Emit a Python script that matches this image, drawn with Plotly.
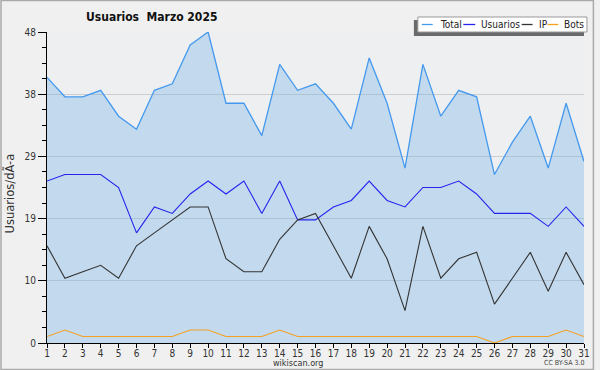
import plotly.graph_objects as go

days = list(range(1, 32))
total = [41, 38, 38, 39, 35, 33, 39, 40, 46, 48, 37, 37, 32, 43, 39, 40, 37, 33, 44, 37,
         27, 43, 35, 39, 38, 26, 31, 35, 27, 37, 28]
usuarios = [25, 26, 26, 26, 24, 17, 21, 20, 23, 25, 23, 25, 20, 25, 19, 19, 21, 22, 25, 22,
            21, 24, 24, 25, 23, 20, 20, 20, 18, 21, 18]
ip = [15, 10, 11, 12, 10, 15, 17, 19, 21, 21, 13, 11, 11, 16, 19, 20, 15, 10, 18, 13,
      5, 18, 10, 13, 14, 6, 10, 14, 8, 14, 9]
bots = [1, 2, 1, 1, 1, 1, 1, 1, 2, 2, 1, 1, 1, 2, 1, 1, 1, 1, 1, 1,
        1, 1, 1, 1, 1, 0, 1, 1, 1, 2, 1]
series_names = ["Total", "Usuarios", "IP", "Bots"]
series_colors = ["#4499ee", "#2424ee", "#333333", "#f5a020"]
ytick_vals = [0, 9.6, 19.2, 28.8, 38.4, 48]
ytick_text = ["0", "10", "19", "29", "38", "48"]

FONT = "DejaVu Sans Condensed, DejaVu Sans, sans-serif"
W, H = 600, 370
L, R, T, B = 47, 10, 32, 27
PW, PH = W - L - R, H - T - B

def px(x):
    return (x - L) / PW

def py(y):
    return (H - B - y) / PH

fig = go.Figure()
fig.add_trace(go.Scatter(x=days, y=total, mode="lines", fill="tozeroy",
                         fillcolor="rgba(110,175,235,0.33)",
                         line=dict(color=series_colors[0], width=1.3), name="Total"))
for vals, name, col in [(usuarios, "Usuarios", series_colors[1]),
                        (ip, "IP", series_colors[2]),
                        (bots, "Bots", series_colors[3])]:
    fig.add_trace(go.Scatter(x=days, y=vals, mode="lines",
                             line=dict(color=col, width=1.1), name=name))

shapes = []
# outer border
shapes.append(dict(type="rect", xref="paper", yref="paper",
                   x0=px(0.5), x1=px(W - 0.5), y0=py(H - 0.5), y1=py(0.5),
                   line=dict(color="#aaaaaa", width=1.5), fillcolor="rgba(0,0,0,0)", layer="below"))
# legend shadow and box
shapes.append(dict(type="rect", xref="paper", yref="paper",
                   x0=px(418), x1=px(590), y0=py(36), y1=py(20),
                   line=dict(width=0), fillcolor="#6a6a6a"))
shapes.append(dict(type="rect", xref="paper", yref="paper",
                   x0=px(422), x1=px(593), y0=py(32), y1=py(17),
                   line=dict(color="#999999", width=1), fillcolor="#ffffff"))
annotations = []
legend_pos = [(426, 437, 442), (468, 480, 484), (527, 538, 542), (553, 564, 568)]
for (lx0, lx1, tx), name, col in zip(legend_pos, series_names, series_colors):
    shapes.append(dict(type="line", xref="paper", yref="paper",
                       x0=px(lx0), x1=px(lx1), y0=py(24.5), y1=py(24.5),
                       line=dict(color=col, width=1.3)))
    annotations.append(dict(text=name, xref="paper", yref="paper", x=px(tx), y=py(24.5),
                            xanchor="left", yanchor="middle", showarrow=False,
                            font=dict(family=FONT, size=10, color="#222222")))

annotations.append(dict(text="<b>Usuarios  Marzo 2025</b>", xref="paper", yref="paper",
                        x=px(84), y=py(17), xanchor="left", yanchor="middle", showarrow=False,
                        font=dict(family=FONT, size=12, color="#111111")))
annotations.append(dict(text="Usuarios/dÃ-a", xref="paper", yref="paper",
                        x=px(10), y=py(193), xanchor="center", yanchor="middle",
                        textangle=-90, showarrow=False,
                        font=dict(family="DejaVu Sans, sans-serif", size=11.5, color="#333333")))
annotations.append(dict(text="wikiscan.org", xref="paper", yref="paper",
                        x=px(301), y=py(362.5), xanchor="center", yanchor="middle", showarrow=False,
                        font=dict(family=FONT, size=9, color="#333333")))
annotations.append(dict(text="CC BY-SA 3.0", xref="paper", yref="paper",
                        x=px(592), y=py(362.5), xanchor="right", yanchor="middle", showarrow=False,
                        font=dict(family=FONT, size=7, color="#444444")))

minor_vals = [i * 2.4 for i in range(21) if i % 4 != 0]

fig.update_layout(
    width=W, height=H,
    margin=dict(l=L, r=R, t=T, b=B, pad=0),
    paper_bgcolor="#f0f0f0", plot_bgcolor="#eeeff1",
    showlegend=False,
    font=dict(family=FONT, size=11, color="#333333"),
    shapes=shapes, annotations=annotations,
    xaxis=dict(range=[1, 31], tickvals=days, ticktext=[str(d) for d in days],
               showgrid=False, zeroline=False, showline=True, linecolor="#000000",
               linewidth=1, ticks="outside", ticklen=4, tickcolor="#000000",
               ticklabelstandoff=-3,
               tickfont=dict(size=10, family=FONT)),
    yaxis=dict(range=[0, 48], tickvals=ytick_vals, ticktext=ytick_text,
               showgrid=True, gridcolor="#cdcdcd", gridwidth=1, zeroline=False,
               showline=True, linecolor="#000000", linewidth=1,
               ticks="outside", ticklen=8, tickcolor="#000000",
               minor=dict(tickvals=minor_vals, ticks="outside", ticklen=4,
                          tickcolor="#000000", showgrid=False),
               tickfont=dict(size=10, family=FONT)),
)

fig.write_html("out.html", config={"displayModeBar": False},
               post_script="document.body.style.margin='0';")
